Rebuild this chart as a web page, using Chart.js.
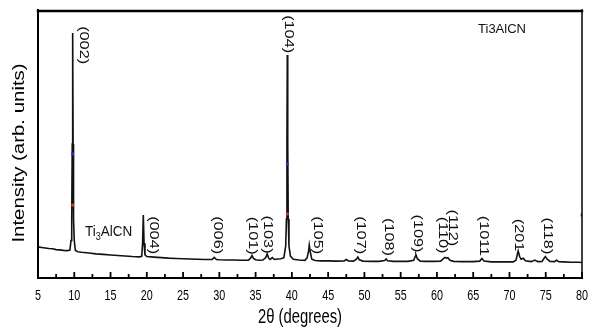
<!DOCTYPE html>
<html>
<head>
<meta charset="utf-8">
<script src="https://cdn.jsdelivr.net/npm/chart.js@4.4.1/dist/chart.umd.min.js"></script>
<style>
  html, body { margin: 0; padding: 0; background: #fff; }
  canvas { display: block; }
</style>
</head>
<body>
<canvas id="xrdChart" width="600" height="331"></canvas>
<script>
// XRD pattern of Ti3AlCN (intensity in arb. units, 0-100)
const twoTheta = [
  5.0, 5.5, 6.0, 6.5, 7.0, 7.5, 8.0, 8.5, 9.0, 9.4, 9.55, 9.65, 9.72, 9.78, 9.84, 9.9, 10.0, 10.15, 10.5,
  11, 12, 13, 14, 15, 16, 17, 18, 19, 19.3, 19.42, 19.52, 19.62, 19.75, 20.0,
  21, 22, 23, 24, 25, 26, 27, 28, 29.0, 29.3, 29.6, 30, 31, 32, 33,
  34.0, 34.3, 34.5, 34.7, 35.0, 35.5, 36.0, 36.4, 36.6, 36.8, 37.0, 37.3, 37.6, 38.0, 38.5, 38.9,
  39.15, 39.25, 39.32, 39.37, 39.43, 39.5, 39.6, 39.8, 40.2,
  41.0, 41.8, 42.1, 42.3, 42.4, 42.55, 42.75, 43.2, 44, 45, 46, 47.2, 47.5, 47.8, 48.5, 48.9, 49.1, 49.3, 49.8,
  51, 52, 52.8, 53.0, 53.2, 54, 55, 56, 56.8, 57.0, 57.1, 57.3, 57.7, 58.5, 59.5, 60.5,
  60.9, 61.1, 61.3, 61.5, 61.8, 62.3, 63.5, 65, 65.9, 66.2, 66.5, 67.5, 69, 70.5,
  70.9, 71.1, 71.2, 71.4, 71.6, 71.9, 72.2, 73, 73.5, 73.9, 74.5, 74.8, 74.95, 75.2, 75.6,
  76.2, 76.5, 76.8, 77.5, 78.5, 79.5, 80
];
const intensity = [
  11.6, 11.4, 11.2, 11.0, 10.9, 10.6, 10.5, 10.3, 10.2, 10.4, 14, 22, 50, 91.4, 50, 22, 14, 10.3, 9.8,
  9.6, 9.3, 9.0, 8.8, 8.6, 8.4, 8.2, 8.0, 7.9, 8.1, 13, 23.5, 13, 8.6, 8.0,
  7.8, 7.6, 7.4, 7.3, 7.2, 7.1, 7.0, 6.9, 6.9, 7.7, 6.9, 6.8, 6.7, 6.7, 6.6,
  6.6, 7.4, 8.4, 7.3, 6.8, 6.6, 6.7, 7.6, 9.0, 7.4, 6.9, 7.6, 6.9, 7.1, 7.2, 7.6,
  12, 22, 50, 83.2, 50, 22, 12, 8.2, 7.0,
  6.7, 6.6, 7.5, 10, 12.3, 9.5, 7.0, 6.5, 6.4, 6.4, 6.3, 6.4, 6.9, 6.4, 6.3, 7.0, 7.8, 6.8, 6.3,
  6.2, 6.2, 6.5, 7.1, 6.4, 6.2, 6.2, 6.2, 6.6, 8.0, 8.7, 7.2, 6.3, 6.2, 6.2, 6.3,
  7.2, 7.7, 7.4, 7.6, 6.6, 6.2, 6.1, 6.1, 6.3, 7.3, 6.3, 6.0, 6.0, 6.0,
  6.6, 9.0, 10.1, 8.0, 7.0, 7.4, 6.4, 6.1, 6.7, 6.1, 6.2, 7.5, 8.0, 7.0, 6.2,
  6.1, 6.6, 6.1, 6.0, 5.9, 5.9, 5.8
];

// peak indices (hkl) and where their labels sit
const hklLabels = ['(002)', '(004)', '(006)', '(101)', '(103)', '(104)', '(105)', '(107)', '(108)',
                   '(109)', '(110)', '(112)', '(1011', '(201', '(118)'];
const hklX = [11.2, 20.86, 29.68, 34.5, 36.57, 39.47, 43.47, 49.4, 53.26, 57.25, 60.7, 62.08, 66.35, 71.18, 75.18];
const hklY = [86.9, 16.0, 16.0, 15.8, 16.2, 91.0, 16.0, 16.0, 15.3, 16.6, 16.0, 18.7, 15.7, 16.0, 15.7];

// small coloured marks present on the original figure
const markX = [9.78, 9.78, 39.37, 39.37, 80];
const markY = [46.3, 27.2, 42.5, 23.9, 23.5];
const markColors = ['#2233dd', '#e03030', '#2233dd', '#e03030', '#e03030'];

const xTicks = [5, 10, 15, 20, 25, 30, 35, 40, 45, 50, 55, 60, 65, 70, 75, 80];

const sans = "'Liberation Sans', Arial, sans-serif";

// text squeezed or stretched like in the scanned figure
function drawText(ctx, text, px, py, rot, sx, sy) {
  ctx.save();
  ctx.translate(px, py);
  ctx.rotate(rot);
  ctx.scale(sx, sy);
  ctx.fillText(text, 0, 0);
  ctx.restore();
}

const framePlugin = {
  id: 'frame',
  afterDraw(chart) {
    const ctx = chart.ctx;
    const a = chart.chartArea;
    const x = chart.scales.x;
    const y = chart.scales.y;
    ctx.save();
    ctx.strokeStyle = '#000';
    ctx.lineCap = 'square';

    // box
    ctx.lineWidth = 2.5;
    ctx.beginPath(); ctx.moveTo(a.left, a.top + 1); ctx.lineTo(a.right, a.top + 1); ctx.stroke();
    ctx.lineWidth = 2;
    ctx.beginPath(); ctx.moveTo(a.left, a.top); ctx.lineTo(a.left, a.bottom); ctx.stroke();
    ctx.beginPath(); ctx.moveTo(a.left, a.bottom); ctx.lineTo(a.right, a.bottom); ctx.stroke();
    ctx.lineWidth = 1.5;
    ctx.beginPath(); ctx.moveTo(a.right, a.top); ctx.lineTo(a.right, a.bottom); ctx.stroke();

    // inward ticks + tick labels
    ctx.lineWidth = 1.8;
    ctx.lineCap = 'butt';
    ctx.fillStyle = '#000';
    ctx.font = '13.5px ' + sans;
    ctx.textAlign = 'center';
    ctx.textBaseline = 'middle';
    xTicks.forEach(v => {
      const px = x.getPixelForValue(v);
      ctx.beginPath(); ctx.moveTo(px, a.bottom); ctx.lineTo(px, a.bottom - 6); ctx.stroke();
      if (v < 80) {
        const pm = x.getPixelForValue(v + 2.5);
        ctx.beginPath(); ctx.moveTo(pm, a.bottom); ctx.lineTo(pm, a.bottom - 4); ctx.stroke();
      }
      drawText(ctx, String(v), px, a.bottom + 17.5, 0, 0.8, 1.08);
    });

    // peak labels, rotated
    ctx.fillStyle = '#111';
    ctx.font = '12.5px ' + sans;
    hklLabels.forEach((t, i) => {
      drawText(ctx, t, x.getPixelForValue(hklX[i]), y.getPixelForValue(hklY[i]), Math.PI / 2, 1.3, 1);
    });

    // phase names
    ctx.font = '13px ' + sans;
    ctx.fillText('Ti3AlCN', x.getPixelForValue(68.97), y.getPixelForValue(92.7));

    ctx.textAlign = 'left';
    let px = x.getPixelForValue(11.48);
    const py = y.getPixelForValue(17.2);
    ctx.font = '15px ' + sans;
    drawText(ctx, 'Ti', px, py, 0, 0.9, 1);
    px += ctx.measureText('Ti').width * 0.9;
    ctx.font = '10px ' + sans;
    drawText(ctx, '3', px, py + 5, 0, 0.9, 1);
    px += ctx.measureText('3').width * 0.9;
    ctx.font = '15px ' + sans;
    drawText(ctx, 'AlCN', px, py, 0, 0.9, 1);

    // axis titles
    ctx.textAlign = 'center';
    ctx.fillStyle = '#000';
    ctx.font = '19px ' + sans;
    drawText(ctx, '2\u03b8 (degrees)', 300, 318, 0, 0.78, 1.05);

    ctx.font = '17px ' + sans;
    drawText(ctx, 'Intensity (arb. units)', 19, 153, -Math.PI / 2, 1.2, 1);

    ctx.restore();
  }
};

new Chart(document.getElementById('xrdChart'), {
  type: 'line',
  data: {
    datasets: [
      {
        label: 'Ti3AlCN',
        data: twoTheta.map((v, i) => ({ x: v, y: intensity[i] })),
        borderColor: '#111',
        borderWidth: 1.6,
        pointRadius: 0,
        tension: 0,
        order: 2
      },
      {
        label: 'marks',
        data: markX.map((v, i) => ({ x: v, y: markY[i] })),
        showLine: false,
        pointStyle: 'rect',
        pointRadius: 2,
        pointBorderWidth: 0,
        pointBackgroundColor: markColors,
        order: 1
      }
    ]
  },
  options: {
    responsive: false,
    animation: false,
    layout: { padding: { left: 38, right: 18, top: 10, bottom: 0 } },
    plugins: {
      legend: { display: false },
      tooltip: { enabled: false }
    },
    scales: {
      x: {
        type: 'linear',
        min: 5,
        max: 80,
        afterBuildTicks: scale => { scale.ticks = xTicks.map(v => ({ value: v })); },
        afterFit: scale => { scale.height = 53; },
        grid: { display: false, drawTicks: false },
        border: { display: false },
        ticks: { display: false }
      },
      y: {
        display: false,
        min: 0,
        max: 100
      }
    }
  },
  plugins: [framePlugin]
});
</script>
</body>
</html>
